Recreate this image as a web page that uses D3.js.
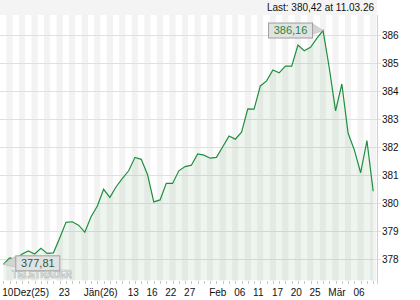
<!DOCTYPE html>
<html>
<head>
<meta charset="utf-8">
<script src="https://cdn.jsdelivr.net/npm/d3@7"></script>
<style>
    body { margin: 0; background: #fff; }
    text { font-family: "Liberation Sans", Arial, sans-serif; font-size: 10px; }
</style>
</head>
<body>
<div id="chart"></div>
<script>
// trading days, 10 Dec 2025 .. 11 Mar 2026
var dates = ["10.12", "11.12", "12.12", "15.12", "16.12", "17.12", "18.12", "19.12", "22.12", "23.12",
    "29.12", "30.12", "31.12", "02.01", "05.01", "06.01", "07.01", "08.01", "09.01", "12.01",
    "13.01", "14.01", "15.01", "16.01", "20.01", "21.01", "22.01", "23.01", "26.01", "27.01",
    "28.01", "29.01", "30.01", "02.02", "03.02", "04.02", "05.02", "06.02", "09.02", "10.02",
    "11.02", "12.02", "13.02", "17.02", "18.02", "19.02", "20.02", "23.02", "24.02", "25.02",
    "26.02", "27.02", "02.03", "03.03", "04.03", "05.03", "06.03", "09.03", "10.03", "11.03"];

var values = [377.81, 378.04, 377.99, 378.18, 378.29, 378.18, 378.38, 378.20, 378.22, 378.75,
    379.31, 379.33, 379.21, 378.96, 379.51, 379.89, 380.49, 380.20, 380.58, 380.88,
    381.15, 381.63, 381.56, 381.02, 380.04, 380.11, 380.70, 380.70, 381.15, 381.30,
    381.35, 381.75, 381.71, 381.60, 381.63, 382.01, 382.39, 382.28, 382.53, 383.36,
    383.35, 384.18, 384.36, 384.75, 384.65, 384.89, 384.89, 385.64, 385.44, 385.56,
    385.88, 386.16, 384.82, 383.29, 384.25, 382.49, 381.89, 381.08, 382.23, 380.42];

var xTickIndex = [0, 9, 13, 20, 23, 26, 29, 33, 37, 40, 43, 46, 49, 52, 56];
var xTickLabels = ["10Dez(25)", "23", "Jän(26)", "13", "16", "22", "27", "Feb", "06", "11", "17", "20", "25", "Mär", "06"];
var yTicks = [378, 379, 380, 381, 382, 383, 384, 385, 386];

var lastText = "Last: 380,42 at 11.03.26";

var width = 420, height = 300;
var plot = { left: 0, right: 377, top: 15, bottom: 281 };

var svg = d3.select("#chart")
    .append("svg")
    .attr("width", width)
    .attr("height", height);

var x = d3.scaleLinear()
    .domain([0, values.length - 1])
    .range([3.3, 373.2]);

var y = d3.scaleLinear()
    .domain([378, 386])
    .range([259, 35]);

// header band
svg.append("rect")
    .attr("x", 0)
    .attr("y", 0)
    .attr("width", plot.right)
    .attr("height", plot.top)
    .attr("fill", "#f4f4f4");

svg.append("text")
    .attr("x", 374)
    .attr("y", 11)
    .attr("text-anchor", "end")
    .attr("fill", "#111")
    .text(lastText);

// vertical stripes, one per trading day
svg.append("g")
    .selectAll("rect")
    .data(values)
    .join("rect")
    .attr("x", (d, i) => Math.max(plot.left, x(i - 0.5)))
    .attr("y", plot.top)
    .attr("width", (d, i) => Math.min(plot.right, x(i + 0.5)) - Math.max(plot.left, x(i - 0.5)))
    .attr("height", plot.bottom - plot.top)
    .attr("fill", (d, i) => i % 2 ? "#f3f3f3" : "#ffffff");

// horizontal grid
svg.append("g")
    .selectAll("line")
    .data(yTicks)
    .join("line")
    .attr("x1", plot.left)
    .attr("x2", plot.right + 4)
    .attr("y1", d => y(d) + 0.5)
    .attr("y2", d => y(d) + 0.5)
    .attr("stroke", "#e0e0e0");

// area + line
var area = d3.area()
    .x((d, i) => x(i))
    .y0(plot.bottom - 1)
    .y1(d => y(d));

var line = d3.line()
    .x((d, i) => x(i))
    .y(d => y(d));

svg.append("path")
    .attr("d", area(values))
    .attr("fill", "#3c8c3c")
    .attr("fill-opacity", 0.085);

// watermark
svg.append("text")
    .attr("x", 12)
    .attr("y", 278)
    .attr("textLength", 60)
    .attr("lengthAdjust", "spacingAndGlyphs")
    .attr("fill", "#f2f2f2")
    .attr("stroke", "#b4b4b4")
    .attr("stroke-width", 0.7)
    .style("font-size", "11px")
    .style("font-weight", "bold")
    .text("TELETRADER");

svg.append("path")
    .attr("d", line(values))
    .attr("fill", "none")
    .attr("stroke", "#1f8f3f")
    .attr("stroke-width", 1.2);

// right axis
svg.append("line")
    .attr("x1", plot.right + 0.5)
    .attr("x2", plot.right + 0.5)
    .attr("y1", plot.top)
    .attr("y2", plot.bottom + 3)
    .attr("stroke", "#d0d0d0");

svg.append("g")
    .selectAll("text")
    .data(yTicks)
    .join("text")
    .attr("x", 382)
    .attr("y", d => y(d) + 4)
    .attr("fill", "#111")
    .text(d => d);

// bottom ticks, one per day
svg.append("g")
    .selectAll("line")
    .data(values)
    .join("line")
    .attr("x1", (d, i) => Math.round(x(i)) + 0.5)
    .attr("x2", (d, i) => Math.round(x(i)) + 0.5)
    .attr("y1", plot.bottom)
    .attr("y2", plot.bottom + 3)
    .attr("stroke", "#c8c8c8");

svg.append("g")
    .selectAll("text")
    .data(xTickIndex)
    .join("text")
    .attr("x", d => x(d) - 1)
    .attr("y", 296)
    .attr("fill", "#111")
    .text((d, i) => xTickLabels[i]);

// max / min markers
var iMax = d3.maxIndex(values);
var iMin = d3.minIndex(values);
var fmt = v => v.toFixed(2).replace(".", ",");

function marker(i, side, textColor) {
    var px = x(i), py = y(values[i]);
    var bw = 44, bh = 15;
    var bx = side === "left" ? px - 11 - bw : px + 12;
    var by = side === "left" ? py - 8 : py - 9;
    var g = svg.append("g");
    var edge = side === "left" ? bx + bw : bx;
    g.append("polygon")
        .attr("points", [[edge, by + 1], [px, py], [edge, by + bh - 3]].join(" "))
        .attr("fill", "#d4d4d4")
        .attr("stroke", "#b8b8b8")
        .attr("stroke-width", 0.6);
    g.append("rect")
        .attr("x", bx + 0.5)
        .attr("y", by + 0.5)
        .attr("width", bw)
        .attr("height", bh)
        .attr("fill", "#e2e2e2")
        .attr("stroke", "#a0a0a0");
    g.append("text")
        .attr("x", bx + bw / 2 + 0.5)
        .attr("y", by + 11.5)
        .attr("text-anchor", "middle")
        .attr("fill", textColor)
        .style("font-size", "11px")
        .text(fmt(values[i]));
}

marker(iMax, "left", "#1a8a3a");
marker(iMin, "right", "#2b5a3e");
</script>
</body>
</html>
